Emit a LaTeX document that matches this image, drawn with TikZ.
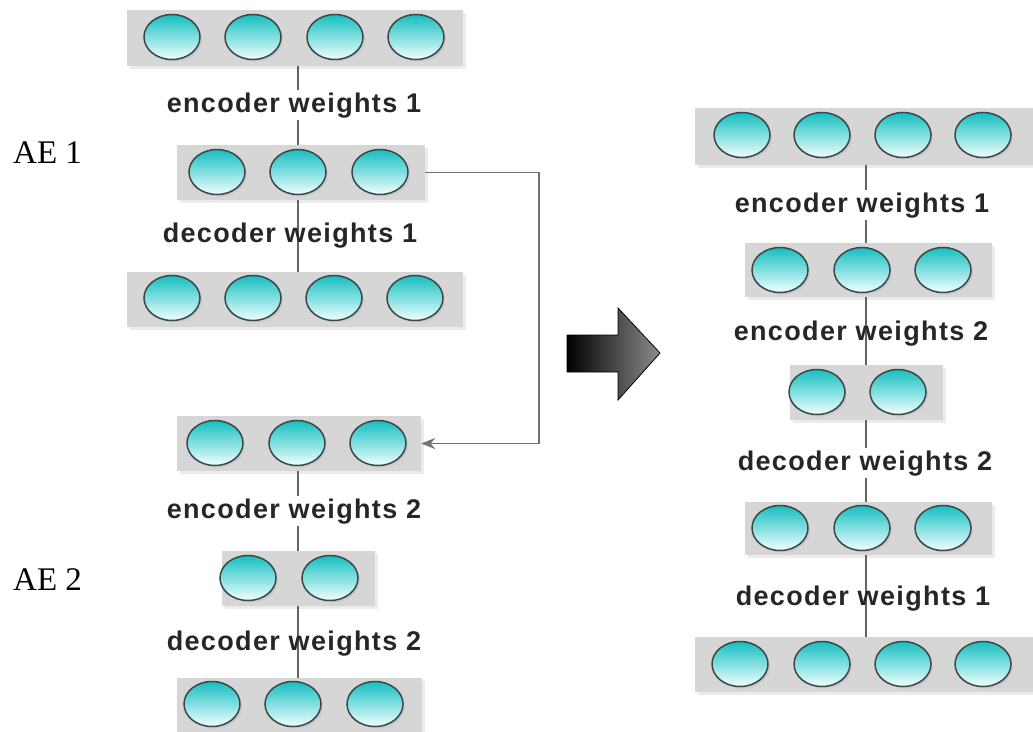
\documentclass[tikz,border=0pt]{standalone}
\usepackage{fontspec}
\setmainfont{Liberation Serif}
\newfontfamily\lblfont{Liberation Sans}[LetterSpace=5]
\usetikzlibrary{shapes.geometric,shadows,arrows.meta}
\definecolor{boxgray}{RGB}{214,214,214}
\definecolor{teal1}{RGB}{22,190,192}
\definecolor{tealw}{RGB}{240,255,255}
\definecolor{rimc}{RGB}{60,72,72}
\definecolor{linec}{RGB}{100,100,100}
\definecolor{txtc}{RGB}{38,38,38}
\definecolor{connc}{RGB}{115,115,115}
\tikzset{
  layerbox/.style={rectangle, inner sep=0pt, fill=boxgray,
    drop shadow={shadow xshift=3pt, shadow yshift=-3pt, fill=black!8, opacity=1}},
  neuron/.style={ellipse, inner sep=0pt, minimum width=56pt, minimum height=45pt,
    draw=rimc, line width=1.5pt, top color=teal1, bottom color=tealw, middle color=teal1!50!tealw,
    drop shadow={shadow xshift=2pt, shadow yshift=-2pt, fill=black!30, opacity=0.35}},
  wlabel/.style={anchor=base, inner sep=2pt, text=txtc, font=\lblfont\bfseries\fontsize{27}{31}\selectfont},
  wlabelw/.style={wlabel, fill=white},
  aelabel/.style={anchor=base west, inner sep=0pt, font=\fontsize{33}{38}\selectfont},
  link/.style={draw=linec, line width=1.7pt},
  conn/.style={draw=connc, line width=1.6pt, -{Stealth[length=14pt,width=11pt]}}
}
\begin{document}
\begin{tikzpicture}[x=1pt,y=-1pt]
\useasboundingbox (0,0) rectangle (1033,731);
% left column boxes
\node[layerbox, minimum width=336pt, minimum height=56pt] (L1) at (295,38) {};
\node[layerbox, minimum width=248pt, minimum height=55pt] (L2) at (301,172.5) {};
\node[layerbox, minimum width=336pt, minimum height=55pt] (L3) at (295,299.5) {};
\node[layerbox, minimum width=244pt, minimum height=55pt] (L4) at (299,443.5) {};
\node[layerbox, minimum width=153pt, minimum height=55pt] (L5) at (298.5,578.5) {};
\node[layerbox, minimum width=245pt, minimum height=58pt] (L6) at (299.5,707) {};
% right column boxes
\node[layerbox, minimum width=343pt, minimum height=57pt] (R1) at (866.5,136.5) {};
\node[layerbox, minimum width=247pt, minimum height=54pt] (R2) at (868.5,270) {};
\node[layerbox, minimum width=153pt, minimum height=55pt] (R3) at (866.5,392.5) {};
\node[layerbox, minimum width=247pt, minimum height=53pt] (R4) at (868.5,528.5) {};
\node[layerbox, minimum width=343pt, minimum height=55pt] (R5) at (866.5,664.5) {};
% vertical links
\coordinate (xl) at (298,0);
\coordinate (xr) at (866,0);
\draw[link] (L1.south -| xl) -- (L2.north -| xl);
\draw[link] (L2.south -| xl) -- (L3.north -| xl);
\draw[link] (L4.south -| xl) -- (L5.north -| xl);
\draw[link] (L5.south -| xl) -- (L6.north -| xl);
\draw[link] (R1.south -| xr) -- (R2.north -| xr);
\draw[link] (R2.south -| xr) -- (R3.north -| xr);
\draw[link] (R3.south -| xr) -- (R4.north -| xr);
\draw[link] (R4.south -| xr) -- (R5.north -| xr);
% neurons left
\node[neuron] (L1a) at (172,37) {};
\node[neuron] (L1b) at (253,37) {};
\node[neuron] (L1c) at (335,37) {};
\node[neuron] (L1d) at (416,37) {};
\node[neuron] (L2a) at (217,172) {};
\node[neuron] (L2b) at (298,172) {};
\node[neuron] (L2c) at (380,172) {};
\node[neuron] (L3a) at (172,298) {};
\node[neuron] (L3b) at (253,298) {};
\node[neuron] (L3c) at (334,298) {};
\node[neuron] (L3d) at (415,298) {};
\node[neuron] (L4a) at (215,443) {};
\node[neuron] (L4b) at (297,443) {};
\node[neuron] (L4c) at (378,443) {};
\node[neuron] (L5a) at (248,578) {};
\node[neuron] (L5b) at (330,578) {};
\node[neuron] (L6a) at (212,704) {};
\node[neuron] (L6b) at (293,704) {};
\node[neuron] (L6c) at (375,704) {};
% neurons right
\node[neuron] (R1a) at (742,135) {};
\node[neuron] (R1b) at (822,135) {};
\node[neuron] (R1c) at (903,135) {};
\node[neuron] (R1d) at (983,135) {};
\node[neuron] (R2a) at (780,270) {};
\node[neuron] (R2b) at (862,270) {};
\node[neuron] (R2c) at (943,270) {};
\node[neuron] (R3a) at (817,392) {};
\node[neuron] (R3b) at (898,392) {};
\node[neuron] (R4a) at (780,528) {};
\node[neuron] (R4b) at (862,528) {};
\node[neuron] (R4c) at (943,528) {};
\node[neuron] (R5a) at (740,664) {};
\node[neuron] (R5b) at (822,664) {};
\node[neuron] (R5c) at (903,664) {};
\node[neuron] (R5d) at (983,664) {};
% labels
\node[wlabelw] (tL1) at (294,112) {encoder weights 1};
\node[wlabel]  (tL2) at (290,242) {decoder weights 1};
\node[wlabelw] (tL3) at (294,518) {encoder weights 2};
\node[wlabel]  (tL4) at (294,650) {decoder weights 2};
\node[wlabelw] (tR1) at (862,212) {encoder weights 1};
\node[wlabel]  (tR2) at (861,340) {encoder weights 2};
\node[wlabelw] (tR3) at (865,470) {decoder weights 2};
\node[wlabel]  (tR4) at (863,605) {decoder weights 1};
\node[aelabel] (ae1) at (13,163) {AE 1};
\node[aelabel] (ae2) at (13,590) {AE 2};
% feedback connector
\coordinate (turn) at (539,0);
\draw[conn] (L2.east) -- (L2.east -| turn) |- (L4.east);
% big block arrow
\shade[left color=black, right color={rgb,255:red,140;green,140;blue,140}, draw=black, line width=0.8pt]
  (567,335) -- (618,335) -- (618,308) -- (660,353) -- (618,400) -- (618,372) -- (567,372) -- cycle;
\end{tikzpicture}
\end{document}
